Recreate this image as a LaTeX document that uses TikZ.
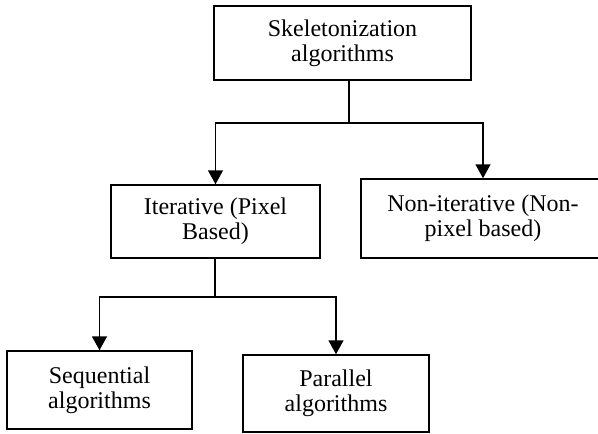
\documentclass[tikz,border=0pt]{standalone}
\usepackage{fontspec}
\setmainfont{Liberation Serif}
\usetikzlibrary{arrows.meta}

\tikzset{
  boite/.style={draw=black, line width=1.5pt, align=center, inner sep=0pt,
                font=\fontsize{24}{25}\selectfont},
  fleche/.style={black, line width=1.5pt, -{Triangle[length=14pt,width=15pt]}},
  trait/.style={black, line width=1.5pt}
}

\begin{document}
\begin{tikzpicture}[x=1pt, y=-1pt]
  \clip (0,0) rectangle (598,434);
  % Boites
  \node[boite, minimum width=257pt, minimum height=74pt] (skel) at (342.5,43)
        {Skeletonization\\algorithms};
  \node[boite, minimum width=209pt, minimum height=73pt] (iter) at (215.5,221.5)
        {Iterative (Pixel\\Based)};
  \node[boite, minimum width=244pt, minimum height=79pt] (noniter) at (483,218.5)
        {Non-iterative (Non-\\pixel based)};
  \node[boite, minimum width=185pt, minimum height=78pt] (seq) at (99.5,390)
        {Sequential\\algorithms};
  \node[boite, minimum width=186pt, minimum height=77pt] (par) at (336,393.5)
        {Parallel\\algorithms};
  % Embranchements
  \coordinate (fourche1) at (349,123);
  \coordinate (fourche2) at (215,297);
  \draw[trait] (skel.south -| fourche1) -- (fourche1);
  \draw[fleche] (fourche1) -| (iter.north);
  \draw[fleche] (fourche1) -| (noniter.north);
  \draw[trait] (iter.south -| fourche2) -- (fourche2);
  \draw[fleche] (fourche2) -| (seq.north);
  \draw[fleche] (fourche2) -| (par.north);
\end{tikzpicture}
\end{document}
